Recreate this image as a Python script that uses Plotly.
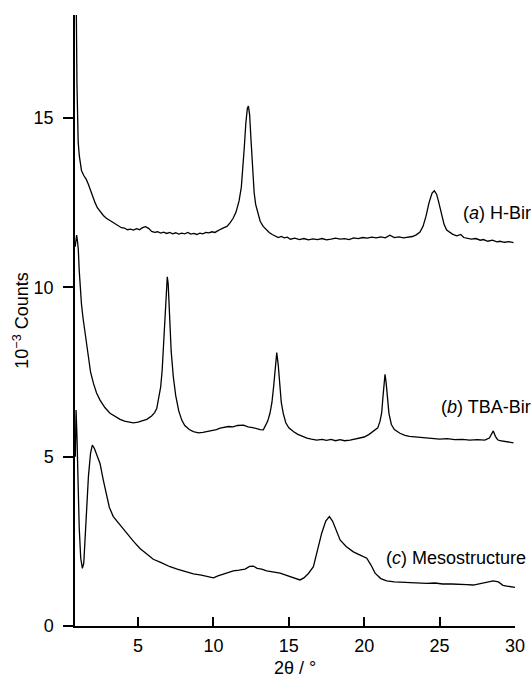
import plotly.graph_objects as go

# ---- data ----
a_x = [0.84, 0.90, 0.95, 0.98, 1.03, 1.10, 1.15, 1.25, 1.40, 1.55, 1.70, 1.85, 2.00, 2.15, 2.30, 2.50,
       2.70, 2.90, 3.10, 3.30, 3.50, 3.70, 3.90, 4.10, 4.30, 4.50, 4.70, 4.90, 5.10, 5.30, 5.50, 5.70,
       5.90, 6.10, 6.30, 6.50, 6.70, 6.90, 7.10, 7.30, 7.50, 7.70, 7.90, 8.10, 8.30, 8.50, 8.70, 8.90,
       9.10, 9.30, 9.50, 9.70, 9.90, 10.10, 10.30, 10.50, 10.70, 10.90, 11.10, 11.30, 11.50, 11.70,
       11.85, 11.95, 12.05, 12.15, 12.25, 12.32, 12.40, 12.50, 12.60, 12.70, 12.80, 12.95, 13.10,
       13.30, 13.50, 13.70, 13.90, 14.10, 14.30, 14.50, 14.70, 14.90, 15.10, 15.40, 15.70, 16.00,
       16.30, 16.60, 16.90, 17.20, 17.50, 17.80, 18.10, 18.40, 18.70, 19.00, 19.30, 19.60, 19.90,
       20.20, 20.50, 20.80, 21.10, 21.40, 21.70, 22.00, 22.30, 22.60, 22.90, 23.20, 23.45, 23.70,
       23.90, 24.10, 24.30, 24.50, 24.65, 24.80, 24.92, 25.05, 25.14, 25.30, 25.47, 25.65, 25.85,
       26.13, 26.40, 26.60, 26.80, 27.10, 27.40, 27.70, 27.90, 28.20, 28.50, 28.80, 29.00, 29.30,
       29.60, 29.90]
a_y = [20.0, 18.5, 16.0, 15.0, 14.3, 13.9, 13.7, 13.45, 13.3, 13.2, 13.05, 12.85, 12.65, 12.5, 12.35, 12.22,
       12.12, 12.04, 11.98, 11.93, 11.86, 11.80, 11.76, 11.75, 11.70, 11.72, 11.69, 11.73, 11.70, 11.76, 11.79, 11.74,
       11.65, 11.62, 11.64, 11.60, 11.63, 11.59, 11.62, 11.58, 11.61, 11.57, 11.60, 11.58, 11.62, 11.57, 11.59, 11.56,
       11.60, 11.58, 11.62, 11.61, 11.64, 11.62, 11.68, 11.72, 11.76, 11.80, 11.90, 12.03, 12.22, 12.55,
       12.95, 13.45, 14.15, 14.85, 15.28, 15.35, 15.10, 14.30, 13.40, 12.80, 12.45, 12.15, 11.95,
       11.80, 11.70, 11.62, 11.56, 11.52, 11.47, 11.50, 11.46, 11.48, 11.42, 11.45, 11.41, 11.44,
       11.40, 11.43, 11.41, 11.44, 11.40, 11.42, 11.45, 11.42, 11.44, 11.41, 11.46, 11.44, 11.47,
       11.45, 11.48, 11.46, 11.49, 11.46, 11.54, 11.47, 11.49, 11.46, 11.48, 11.50, 11.55, 11.63,
       11.80, 12.10, 12.50, 12.78, 12.85, 12.75, 12.55, 12.30, 12.08, 11.85, 11.69, 11.63, 11.57,
       11.52, 11.56, 11.47, 11.45, 11.42, 11.44, 11.39, 11.41, 11.36, 11.39, 11.34, 11.36, 11.33,
       11.35, 11.32]

b_x = [0.83, 0.93, 1.00, 1.04, 1.10, 1.15, 1.25, 1.35, 1.49, 1.60, 1.71, 1.85, 2.04, 2.25, 2.48, 2.80,
       3.14, 3.50, 3.81, 4.10, 4.40, 4.69, 5.00, 5.30, 5.58, 5.90, 6.10, 6.24, 6.40, 6.50, 6.60, 6.70,
       6.79, 6.87, 6.94, 7.00, 7.06, 7.12, 7.20, 7.34, 7.50, 7.70, 7.90, 8.10, 8.40, 8.67, 9.00, 9.30,
       9.60, 9.90, 10.20, 10.44, 10.70, 11.00, 11.30, 11.60, 11.99, 12.30, 12.60, 12.90, 13.10, 13.31,
       13.45, 13.60, 13.75, 13.88, 14.00, 14.10, 14.20, 14.30, 14.40, 14.50, 14.63, 14.80, 15.00,
       15.30, 15.60, 15.90, 16.20, 16.50, 16.85, 17.20, 17.50, 17.80, 18.10, 18.40, 18.70, 19.06,
       19.40, 19.70, 20.00, 20.30, 20.60, 20.90, 21.05, 21.16, 21.25, 21.32, 21.38, 21.45, 21.55,
       21.64, 21.80, 22.00, 22.37, 22.70, 23.00, 23.40, 23.80, 24.20, 24.58, 25.00, 25.50, 26.00,
       26.50, 27.00, 27.50, 28.00, 28.30, 28.45, 28.56, 28.70, 28.85, 29.00, 29.30, 29.60, 29.90]
b_y = [11.20, 11.54, 11.30, 11.10, 10.50, 10.02, 9.50, 9.10, 8.65, 8.25, 7.85, 7.50, 7.17, 6.88, 6.67, 6.45,
       6.28, 6.17, 6.10, 6.05, 6.02, 6.00, 6.02, 6.05, 6.10, 6.20, 6.30, 6.42, 6.75, 7.05, 7.55, 8.30,
       9.13, 9.90, 10.31, 10.10, 9.40, 8.90, 8.10, 7.36, 6.80, 6.35, 6.08, 5.92, 5.80, 5.74, 5.70, 5.72,
       5.74, 5.77, 5.80, 5.84, 5.86, 5.89, 5.88, 5.92, 5.93, 5.88, 5.86, 5.82, 5.80, 5.79,
       5.90, 6.05, 6.28, 6.60, 7.10, 7.70, 8.07, 7.70, 7.10, 6.60, 6.28, 6.00, 5.85,
       5.74, 5.66, 5.60, 5.55, 5.52, 5.49, 5.51, 5.48, 5.51, 5.47, 5.50, 5.47, 5.49,
       5.52, 5.55, 5.58, 5.65, 5.74, 5.85, 6.05, 6.30, 6.80, 7.20, 7.43, 7.20, 6.70,
       6.28, 5.95, 5.80, 5.69, 5.63, 5.60, 5.58, 5.56, 5.55, 5.54, 5.52, 5.53, 5.50,
       5.51, 5.49, 5.50, 5.49, 5.55, 5.70, 5.76, 5.60, 5.50, 5.47, 5.45, 5.43, 5.41]

c_x = [0.84, 0.89, 0.95, 1.02, 1.10, 1.20, 1.31, 1.40, 1.50, 1.60, 1.71, 1.85, 1.97, 2.10, 2.25, 2.48,
       2.70, 2.92, 3.10, 3.36, 3.80, 4.25, 4.70, 5.13, 5.60, 6.01, 6.50, 7.12, 7.60, 8.10, 8.67, 9.20,
       9.60, 10.00, 10.30, 10.70, 11.00, 11.32, 11.70, 12.10, 12.40, 12.65, 12.90, 13.20, 13.53,
       13.90, 14.42, 14.80, 15.20, 15.50, 15.74, 16.00, 16.30, 16.63, 16.90, 17.18, 17.45, 17.69,
       17.90, 18.10, 18.40, 18.80, 19.28, 19.70, 20.17, 20.45, 20.72, 21.10, 21.49, 22.00, 22.50,
       23.00, 23.50, 24.14, 24.70, 25.20, 25.80, 26.30, 26.80, 27.23, 27.70, 28.10, 28.56, 28.90,
       29.20, 29.45, 29.70, 30.00]
c_y = [5.00, 6.38, 5.60, 4.20, 2.90, 2.00, 1.70, 1.85, 2.60, 3.60, 4.41, 5.10, 5.34, 5.25, 5.05, 4.80,
       4.30, 3.82, 3.50, 3.23, 2.98, 2.74, 2.50, 2.29, 2.12, 1.97, 1.88, 1.75, 1.68, 1.62, 1.54, 1.50,
       1.46, 1.42, 1.48, 1.54, 1.60, 1.63, 1.65, 1.68, 1.76, 1.77, 1.70, 1.68, 1.63,
       1.60, 1.56, 1.50, 1.44, 1.38, 1.36, 1.42, 1.55, 1.75, 2.20, 2.74, 3.10, 3.23,
       3.10, 2.85, 2.54, 2.35, 2.19, 2.10, 2.00, 1.80, 1.56, 1.40, 1.33, 1.30, 1.29,
       1.27, 1.28, 1.26, 1.27, 1.24, 1.24, 1.22, 1.22, 1.21, 1.25, 1.30, 1.33, 1.30,
       1.20, 1.18, 1.16, 1.14]

labels = ["(<i>a</i>) H-Bir", "(<i>b</i>) TBA-Bir", "(<i>c</i>) Mesostructure"]
label_x = [26.45, 24.95, 21.3]
label_y = [12.19, 6.47, 2.0]

x_ticks = [5, 10, 15, 20, 25, 30]
y_ticks = [0, 5, 10, 15]
x_title = "2θ / °"
y_title = "10<sup>−3</sup> Counts"

FONT = "Liberation Sans, Arial, sans-serif"

fig = go.Figure()
for xs, ys in [(a_x, a_y), (b_x, b_y), (c_x, c_y)]:
    fig.add_trace(go.Scatter(x=xs, y=ys, mode="lines",
                             line=dict(color="black", width=1.3),
                             showlegend=False, hoverinfo="skip"))

for t, lx, ly in zip(labels, label_x, label_y):
    fig.add_annotation(x=lx, y=ly, text=t, showarrow=False, xanchor="left", yanchor="middle",
                       font=dict(family=FONT, size=18, color="black"))

# x-axis title placed below the tick labels
fig.add_annotation(x=0.5, y=-0.069, xref="paper", yref="paper", text=x_title, showarrow=False,
                   xanchor="center", yanchor="middle", font=dict(family=FONT, size=18, color="black"))

fig.update_layout(
    width=531, height=674,
    margin=dict(l=75, r=16, t=15, b=48),
    paper_bgcolor="white", plot_bgcolor="white",
    font=dict(family=FONT, size=18, color="black"),
    showlegend=False,
)
fig.update_xaxes(range=[0.82, 30], tickvals=x_ticks, ticks="inside", ticklen=9, tickwidth=1.5,
                 tickcolor="black", showline=True, linecolor="black", linewidth=1.5,
                 showgrid=False, zeroline=False, automargin=False, ticklabelstandoff=3,
                 tickfont=dict(color="black"))
fig.update_yaxes(range=[0, 18.04], tickvals=y_ticks, ticks="outside", ticklen=10, tickwidth=1.5,
                 tickcolor="black", showline=True, linecolor="black", linewidth=1.5,
                 showgrid=False, zeroline=False, ticklabelstandoff=6, automargin=False,
                 tickfont=dict(color="black"),
                 title=dict(text=y_title, font=dict(size=18, color="black"), standoff=0))

fig.write_html("out.html", config={"displayModeBar": False},
               post_script="document.body.style.margin='0';")
